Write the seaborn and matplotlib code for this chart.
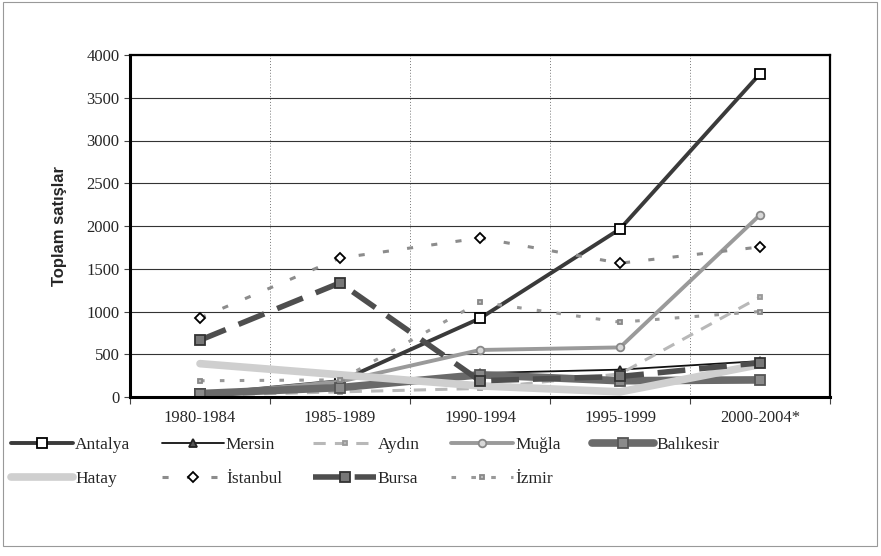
import matplotlib
matplotlib.use("Agg")
import matplotlib.pyplot as plt
import seaborn as sns
import numpy as np
import pandas as pd
from matplotlib.patches import Rectangle

sns.set_theme(style="white")
plt.rcParams['font.family'] = ['Liberation Serif', 'DejaVu Serif']

# dati
periodi = ["1980-1984", "1985-1989", "1990-1994", "1995-1999", "2000-2004*"]
antalya = [30, 185, 920, 1965, 3780]
mersin = [20, 130, 280, 320, 420]
aydin = [20, 60, 100, 270, 1170]
mugla = [25, 180, 550, 580, 2130]
balikesir = [40, 110, 260, 190, 200]
hatay = [390, 260, 130, 60, 380]
istanbul = [925, 1625, 1860, 1565, 1755]
bursa = [665, 1335, 190, 240, 400]
izmir = [190, 200, 1110, 875, 1000]

# stile per ogni serie: (nome, valori, colore, lw, linestyle, marker, mfc, mec, ms)
serie = [
    ("Antalya", antalya, "#3a3a3a", 2.8, "-", "s", "white", "black", 6.5),
    ("Mersin", mersin, "#111111", 1.3, "-", "^", "#555555", "#222222", 5.5),
    ("Aydın", aydin, "#b8b8b8", 2.2, (0, (4, 3)), "s", "#b8b8b8", "#999999", 3),
    ("Muğla", mugla, "#9a9a9a", 2.8, "-", "o", "#d8d8d8", "#888888", 5.5),
    ("Balıkesir", balikesir, "#6a6a6a", 5.5, "-", "s", "#8a8a8a", "#555555", 6.5),
    ("Hatay", hatay, "#cfcfcf", 5.5, "-", None, "#cfcfcf", "#cfcfcf", 0),
    ("İstanbul", istanbul, "#8c8c8c", 2.2, (0, (2, 6)), "D", "white", "black", 5.5),
    ("Bursa", bursa, "#4e4e4e", 4.0, (0, (5, 2.5)), "s", "#777777", "#333333", 6.5),
    ("İzmir", izmir, "#999999", 2.2, (0, (1.5, 5)), "s", "#bbbbbb", "#888888", 3),
]

fig = plt.figure(figsize=(8.81, 5.56), dpi=100)
ax = fig.add_axes([130 / 881, 1 - 397 / 556, 700 / 881, 342 / 556])

x = np.arange(len(periodi))
handles = {}
for nome, vals, col, lw, ls, mk, mfc, mec, ms in serie:
    sns.lineplot(x=x, y=vals, ax=ax, color=col, lw=lw, linestyle=ls,
                 marker=mk, markerfacecolor=mfc, markeredgecolor=mec,
                 markersize=ms, markeredgewidth=1.3, label=nome)
    handles[nome] = ax.lines[-1]

ax.set_xlim(-0.5, len(periodi) - 0.5)
ax.set_ylim(0, 4000)
ax.set_yticks(np.arange(0, 4001, 500))
ax.set_xticks(np.arange(-0.5, len(periodi), 1.0))
ax.set_xticklabels([])
ax.set_xticks(x, minor=True)
ax.set_xticklabels(periodi, minor=True, fontsize=12)
ax.tick_params(axis="x", which="minor", length=0, pad=9)
ax.tick_params(axis="x", which="major", length=5, width=0.8, color="#444444", direction="out")
ax.tick_params(axis="y", length=4, width=0.8, color="#444444", labelsize=12, direction="out")
ax.yaxis.set_tick_params(left=True)
ax.xaxis.set_tick_params(bottom=True)
ax.grid(axis="y", color="#333333", lw=0.8, ls="-")
ax.grid(axis="x", which="major", color="#777777", lw=0.7, ls=(0, (1, 2)))
ax.set_axisbelow(True)

for s in ax.spines.values():
    s.set_visible(True)
    s.set_color("black")
ax.spines["left"].set_linewidth(2.2)
ax.spines["bottom"].set_linewidth(2.2)
ax.spines["top"].set_linewidth(1.6)
ax.spines["right"].set_linewidth(1.6)

ax.set_ylabel("Toplam satışlar", fontsize=12, fontweight="bold",
              family=["Liberation Sans", "DejaVu Sans"], labelpad=14)
ax.set_xlabel("")

# legenda: ordine per colonne per avere le righe giuste
ordine = ["Antalya", "Hatay", "Mersin", "İstanbul", "Aydın", "Bursa", "Muğla", "İzmir", "Balıkesir"]
ax.get_legend().remove()
leg = fig.legend([handles[n] for n in ordine], ordine, loc="upper left",
                 bbox_to_anchor=(4 / 881, 1 - 430 / 556), ncol=5, frameon=False,
                 fontsize=12.5, handlelength=3.6, handletextpad=0.1,
                 columnspacing=1.8, labelspacing=1.05, borderaxespad=0)

# cornice esterna
fig.patches.append(Rectangle((3 / 881, 10 / 556), 874 / 881, 544 / 556,
                             transform=fig.transFigure, fill=False,
                             edgecolor="#999999", lw=0.8))

fig.savefig("out.png", dpi=100, facecolor="white")
